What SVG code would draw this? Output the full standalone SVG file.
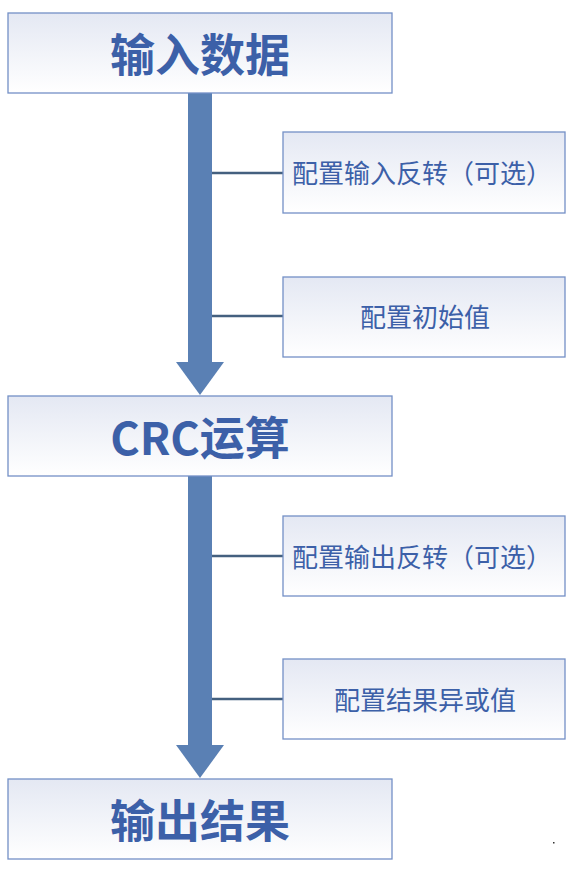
<svg xmlns="http://www.w3.org/2000/svg" width="573" height="871" viewBox="0 0 573 871">
<defs>
<linearGradient id="g" x1="0" y1="0" x2="0" y2="1">
<stop offset="0" stop-color="#e4e8f3"/>
<stop offset="1" stop-color="#ffffff"/>
</linearGradient>
<style>
.box{fill:url(#g);stroke:#7390c6;stroke-width:1.3}
.big{font-family:"Noto Sans CJK SC","Noto Sans",sans-serif;font-size:45px;font-weight:bold;fill:#3c60a8;text-anchor:middle;dominant-baseline:central}
.small{font-family:"Noto Sans CJK SC","Noto Sans",sans-serif;font-size:26px;fill:#3c60a8;text-anchor:middle;dominant-baseline:central}
.shaft{fill:#5a80b4}
.tick{stroke:#44607f;stroke-width:2.4}
</style>
</defs>
<g id="connectors">
<rect class="shaft" x="188" y="93" width="24" height="270"/>
<polygon class="shaft" points="176,362 224,362 200,395"/>
<rect class="shaft" x="188" y="476" width="24" height="270"/>
<polygon class="shaft" points="176,745 224,745 200,778"/>
<line class="tick" x1="212" y1="173" x2="284" y2="173"/>
<line class="tick" x1="212" y1="316" x2="284" y2="316"/>
<line class="tick" x1="212" y1="556" x2="284" y2="556"/>
<line class="tick" x1="212" y1="699" x2="284" y2="699"/>
</g>
<g id="input">
<rect class="box" x="8" y="13" width="384" height="80"/>
<text class="big" x="200" y="52">输入数据</text>
</g>
<g id="crc">
<rect class="box" x="8" y="396" width="384" height="80"/>
<text class="big" x="200" y="435">CRC运算</text>
</g>
<g id="output">
<rect class="box" x="8" y="779" width="384" height="80"/>
<text class="big" x="200" y="818">输出结果</text>
</g>
<g id="cfg1">
<rect class="box" x="283" y="132" width="282" height="81"/>
<text class="small" x="422" y="171">配置输入反转（可选）</text>
</g>
<g id="cfg2">
<rect class="box" x="283" y="277" width="282" height="80"/>
<text class="small" x="425" y="315">配置初始值</text>
</g>
<g id="cfg3">
<rect class="box" x="283" y="516" width="282" height="80"/>
<text class="small" x="422" y="555">配置输出反转（可选）</text>
</g>
<g id="cfg4">
<rect class="box" x="283" y="659" width="282" height="80"/>
<text class="small" x="425" y="698">配置结果异或值</text>
</g>
<rect x="553" y="842" width="1.5" height="1.5" fill="#333"/>
</svg>
